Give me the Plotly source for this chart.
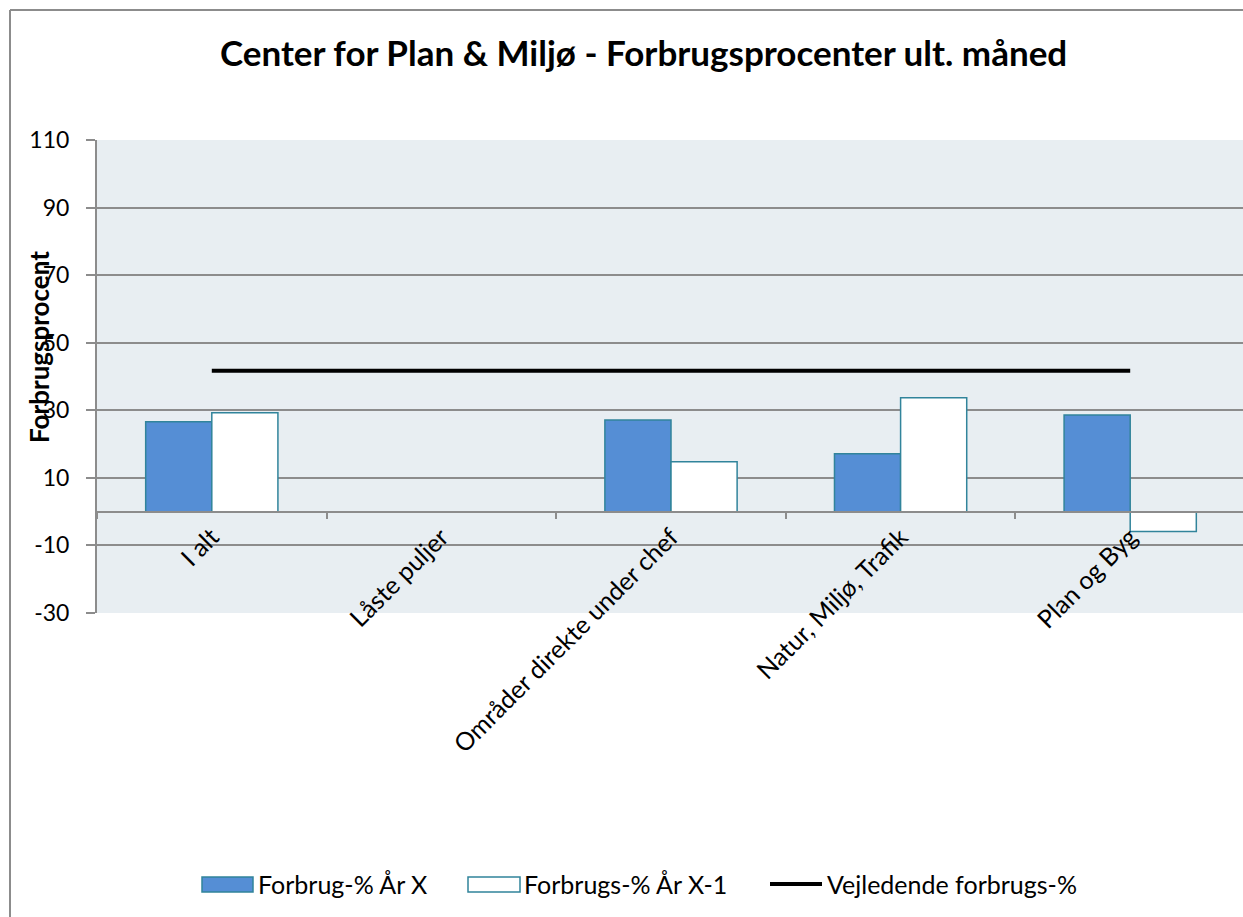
import plotly.graph_objects as go

categories = ["I alt", "Låste puljer", "Områder direkte under chef", "Natur, Miljø, Trafik", "Plan og Byg"]
forbrug_x = [26.6, None, 27.1, 17.1, 28.6]
forbrug_x1 = [29.3, None, 14.8, 33.7, -5.9]
vejledende = [41.7, 41.7, 41.7, 41.7, 41.7]
series_names = ["Forbrug-% År X", "Forbrugs-% År X-1", "Vejledende forbrugs-%"]
y_ticks = [-30, -10, 10, 30, 50, 70, 90, 110]
y_tick_labels = ["-30", "-10", "10", "30", "50", "70", "90", "110"]

W, H = 1245, 917
L, R, T, B = 97, 1245, 140, 613

def px(x):
    return (x - L) / (R - L)

def py(y):
    return (B - y) / (B - T)

FONT = "Lato"
BLUE = "#558ED5"
EDGE = "#31849B"
GRID = "#8C8C8C"

fig = go.Figure()
fig.add_trace(go.Bar(x=categories, y=forbrug_x, name=series_names[0],
                     marker=dict(color=BLUE, line=dict(color=EDGE, width=1.5)),
                     showlegend=False))
fig.add_trace(go.Bar(x=categories, y=forbrug_x1, name=series_names[1],
                     marker=dict(color="white", line=dict(color=EDGE, width=1.5)),
                     showlegend=False))
fig.add_trace(go.Scatter(x=categories, y=vejledende, name=series_names[2], mode="lines",
                         line=dict(color="black", width=4), showlegend=False))

zero_pos = (0 - (-30)) / (110 - (-30))

shapes = [
    dict(type="line", xref="paper", yref="paper", x0=px(10), x1=px(10), y0=py(10), y1=py(930),
         line=dict(color="#8C8C8C", width=2)),
    dict(type="line", xref="paper", yref="paper", x0=px(10), x1=px(1260), y0=py(10), y1=py(10),
         line=dict(color="#8C8C8C", width=2)),
    dict(type="rect", xref="paper", yref="paper", x0=px(202), x1=px(253), y0=py(892), y1=py(877),
         fillcolor=BLUE, line=dict(color=EDGE, width=1.5)),
    dict(type="rect", xref="paper", yref="paper", x0=px(468), x1=px(520), y0=py(892), y1=py(877),
         fillcolor="white", line=dict(color=EDGE, width=1.5)),
    dict(type="line", xref="paper", yref="paper", x0=px(770), x1=px(822), y0=py(884), y1=py(884),
         line=dict(color="black", width=4)),
]

annotations = [
    dict(text="<b>Center for Plan & Miljø - Forbrugsprocenter ult. måned</b>", xref="paper", yref="paper",
         x=px(643), y=py(52), xanchor="center", yanchor="middle", showarrow=False,
         font=dict(family=FONT, size=35, color="black")),
    dict(text="<b>Forbrugsprocent</b>", xref="paper", yref="paper", x=px(39), y=py(347),
         xanchor="center", yanchor="middle", textangle=-90, showarrow=False,
         font=dict(family=FONT, size=26, color="black")),
    dict(text=series_names[0], xref="paper", yref="paper", x=px(256), y=py(884),
         xanchor="left", yanchor="middle", showarrow=False, font=dict(family=FONT, size=25, color="black")),
    dict(text=series_names[1], xref="paper", yref="paper", x=px(522), y=py(884),
         xanchor="left", yanchor="middle", showarrow=False, font=dict(family=FONT, size=25, color="black")),
    dict(text=series_names[2], xref="paper", yref="paper", x=px(825), y=py(884),
         xanchor="left", yanchor="middle", showarrow=False, font=dict(family=FONT, size=25, color="black")),
]

fig.update_layout(
    width=W, height=H,
    margin=dict(l=L, r=W - R, t=T, b=H - B, pad=0),
    paper_bgcolor="white",
    plot_bgcolor="#E8EEF2",
    barmode="group", bargap=0.424, bargroupgap=0,
    font=dict(family=FONT, size=21, color="black"),
    showlegend=False,
    shapes=shapes,
    annotations=annotations,
    xaxis=dict(type="category", range=[-0.5, 4.5], anchor="free", position=zero_pos,
               showline=True, linecolor=GRID, linewidth=2, showgrid=False,
               ticks="outside", tickson="boundaries", ticklen=6, tickcolor=GRID, tickwidth=1.5,
               tickangle=-45, tickfont=dict(family=FONT, size=25, color="black"), zeroline=False),
    yaxis=dict(range=[-30, 110], tickvals=y_ticks, ticktext=y_tick_labels, showgrid=True,
               gridcolor=GRID, gridwidth=1.5,
               showline=True, linecolor=GRID, linewidth=2, ticks="outside", ticklen=9,
               tickcolor=GRID, tickwidth=1.5, zeroline=False,
               tickfont=dict(family=FONT, size=23, color="black"), ticklabelstandoff=12),
)

fig.write_html("out.html", config={"displayModeBar": False},
               post_script="document.body.style.margin='0px';document.body.style.overflow='hidden';")
